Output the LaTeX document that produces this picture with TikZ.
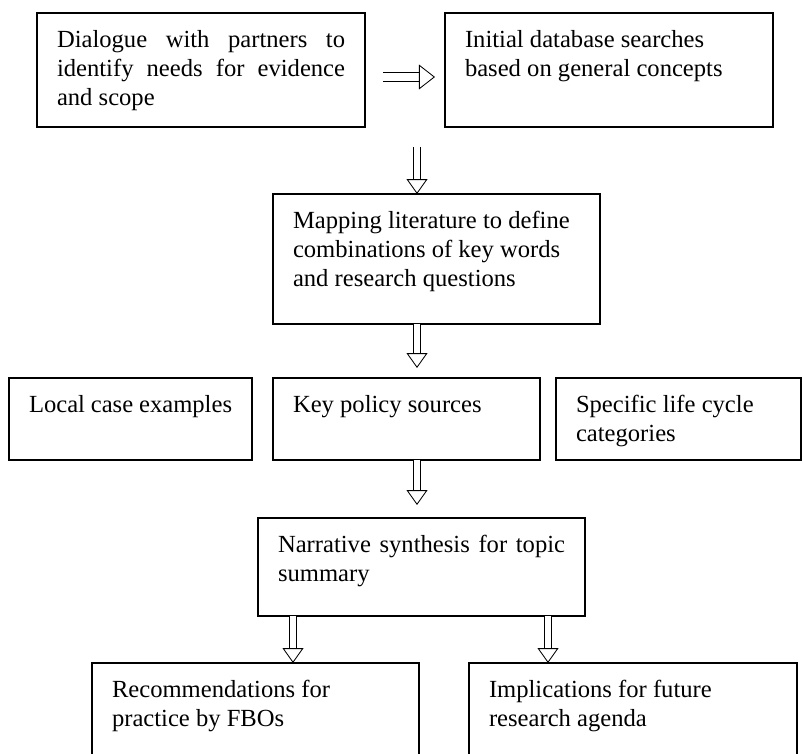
\documentclass[tikz,border=0pt]{standalone}
\usepackage{fontspec}
\setmainfont{Liberation Serif}
\usetikzlibrary{arrows.meta}

\newcommand{\boxtext}[3]{\parbox[t][#2][t]{#1}{\strut #3}}

\begin{document}
\begin{tikzpicture}[x=0.025cm, y=-0.025cm,
    box/.style={draw, line width=1.3pt, anchor=north west, inner xsep=0.5cm, inner ysep=0.36cm, outer sep=0pt,
        font=\fontsize{17.5}{20.6}\selectfont},
    hollow/.style={double, double distance=0.15cm, line width=0.6pt,
        -{Triangle[open, width=0.52cm, length=0.37cm]}}]
    \useasboundingbox (0,0) rectangle (803,754);
    \clip (0,0) rectangle (803,754);

    % first row
    \node[box] (dialogue) at (37,13) {\boxtext{7.2cm}{2.125cm}{Dialogue with partners to\linebreak identify needs for evidence\linebreak and scope}};
    \node[box] (initial) at (445,13) {\boxtext{7.2cm}{2.125cm}{\raggedright Initial database searches\\ based on general concepts}};

    % mapping
    \node[box] (mapping) at (273,194) {\boxtext{7.175cm}{2.525cm}{\raggedright Mapping literature to define\\ combinations of key words\\ and research questions}};

    % three sources
    \node[box] (local) at (9,378) {\boxtext{5.075cm}{1.325cm}{\raggedright Local case examples}};
    \node[box] (policy) at (273,378) {\boxtext{5.675cm}{1.325cm}{\raggedright Key policy sources}};
    \node[box] (lifecycle) at (556,378) {\boxtext{5.125cm}{1.325cm}{\raggedright Specific life cycle\\ categories}};

    % synthesis and outputs
    \node[box] (synthesis) at (258,518) {\boxtext{7.175cm}{1.725cm}{Narrative synthesis for topic\linebreak summary}};
    \node[box] (practice) at (92,663) {\boxtext{7.175cm}{2.025cm}{\raggedright Recommendations for\\ practice by FBOs}};
    \node[box] (agenda) at (469,663) {\boxtext{7.2cm}{2.025cm}{\raggedright Implications for future\\ research agenda}};

    \coordinate (down) at (417,147);
    \coordinate (left) at (293,616);
    \coordinate (right) at (548,616);

    \draw[hollow, double distance=0.2cm, shorten <=0.45cm, shorten >=0.25cm,
        -{Triangle[open, width=0.62cm, length=0.4cm]}] (dialogue.east |- 0,77) -- (initial.west |- 0,77);
    \draw[hollow] (down) -- (down |- mapping.north);
    \draw[hollow, shorten >=0.25cm] (down |- mapping.south) -- (down |- policy.north);
    \draw[hollow, shorten >=0.325cm] (down |- policy.south) -- (down |- synthesis.north);
    \draw[hollow] (left) -- (left |- practice.north);
    \draw[hollow] (right) -- (right |- agenda.north);
\end{tikzpicture}
\end{document}
